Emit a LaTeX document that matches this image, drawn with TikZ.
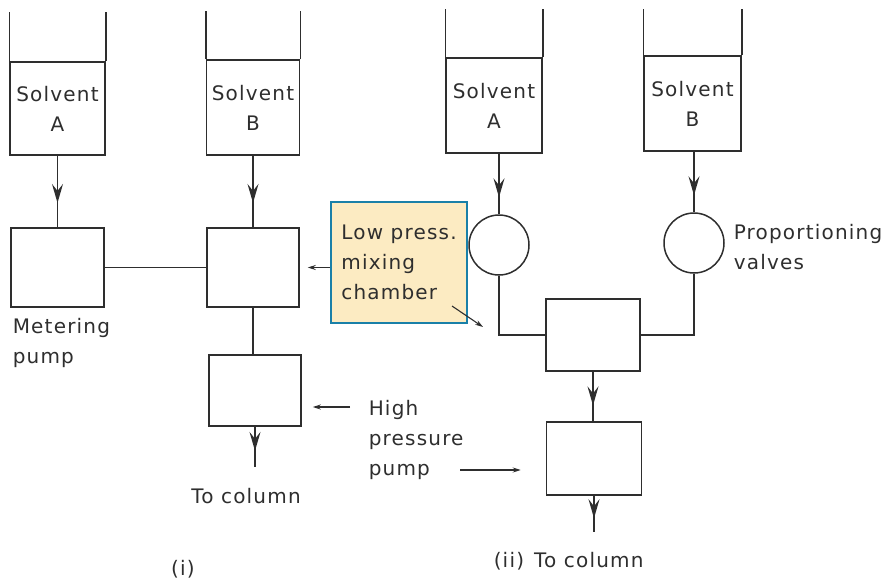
\documentclass[tikz,border=0pt]{standalone}
\usepackage{fontspec}
\setmainfont{DejaVu Sans}[LetterSpace=6]
\usetikzlibrary{arrows.meta,decorations.markings}
\definecolor{ink}{HTML}{2E2E2E}
\definecolor{hlfill}{HTML}{FCEBC2}
\definecolor{hlborder}{HTML}{1A80A8}
\begin{document}
\begin{tikzpicture}[x=1pt,y=-1pt, line width=1.5pt, color=ink,
  font=\fontsize{20}{30}\selectfont,
  box/.style={draw=ink, rectangle, inner sep=0pt},
  valve/.style={draw=ink, circle, minimum size=60pt, inner sep=0pt},
  flow/.style={draw=ink, postaction={decorate},
    decoration={markings, mark=at position #1 with {\arrow{Stealth[length=19pt,width=11pt,inset=7pt]}}}},
  flow/.default=0.6,
  note/.style={draw=ink, line width=1.1pt, -{Stealth[length=8pt,width=5pt]}},
  lbl/.style={align=left, inner sep=0pt}]
\useasboundingbox (0,0) rectangle (889,579);

% ---------- (i) ----------
\node[box, minimum width=95pt, minimum height=93pt, align=center] (tAi) at (57.5,108.5) {Solvent\\A};
\draw (tAi.north west) -- ++(0,-49) (tAi.north east) -- ++(0,-49);
\node[box, minimum width=93pt, minimum height=95pt, align=center] (tBi) at (253,107.5) {Solvent\\B};
\draw (tBi.north west) -- ++(0,-48) (tBi.north east) -- ++(0,-48);

\node[box, minimum width=93pt, minimum height=79pt] (mp) at (57.5,267.5) {};
\node[box, minimum width=92pt, minimum height=79pt] (mxi) at (253,267.5) {};
\node[box, minimum width=92pt, minimum height=71pt] (hpi) at (255,390.5) {};
\coordinate (outi) at (255,467);

\draw[flow=0.66] (tAi.south) -- (mp.north);
\draw[flow=0.66] (tBi.south) -- (mxi.north);
\draw (mp.east) -- (mxi.west);
\draw (mxi.south) -- (mxi.south |- hpi.north);
\draw[flow=0.6] (hpi.south) -- (outi);

\node[lbl, anchor=north west] (mplbl) at (12,318) {Metering\\pump};
\node[anchor=base] (toi) at (246,503) {To column};
\node[anchor=base] (labi) at (183,575) {(i)};

% ---------- (ii) ----------
\node[box, minimum width=96pt, minimum height=95pt, align=center] (tAii) at (494,105.5) {Solvent\\A};
\draw (tAii.north west) -- ++(0,-48) (tAii.north east) -- ++(0,-48);
\node[box, minimum width=97pt, minimum height=95pt, align=center] (tBii) at (692.5,103.5) {Solvent\\B};
\draw (tBii.north west) -- ++(0,-46) (tBii.north east) -- ++(0,-46);

\node[valve] (vA) at (499,245) {};
\node[valve] (vB) at (694,243) {};
\node[box, minimum width=94pt, minimum height=72pt] (mxii) at (593,335) {};
\node[box, minimum width=95pt, minimum height=73pt] (hpii) at (594,458.5) {};
\coordinate (outii) at (594,532);

\draw[flow=0.72] (tAii.south -| vA.north) -- (vA.north);
\draw[flow=0.72] (tBii.south -| vB.north) -- (vB.north);
\draw (vA.south) |- (mxii.west);
\draw (vB.south) |- (mxii.east);
\draw[flow=0.68] (mxii.south) -- (mxii.south |- hpii.north);
\draw[flow=0.62] (hpii.south) -- (outii);

\node[lbl, anchor=north west] (pvlbl) at (733,224) {Proportioning\\valves};
\node[anchor=base west, inner sep=0pt] (toii) at (493,567) {(ii)\hspace{0.5em}To column};

% ---------- shared labels ----------
\node[lbl, anchor=north west] (hplbl) at (368,400) {High\\pressure\\pump};
\coordinate (hpA) at (350,407);
\coordinate (hpB) at (460,470);
\draw[note] (hpA) -- ([xshift=11pt]hpi.east |- hpA);
\draw[note] (hpB) -- ([xshift=-25pt]hpii.west |- hpB);

\node[draw=hlborder, fill=hlfill, line width=2.5pt, minimum width=136pt, minimum height=121pt,
      align=left, inner sep=0pt] (lp) at (399,262.5) {Low press.\\mixing\\chamber};
\draw[note] (lp.west |- mxi.east) -- ([xshift=8pt]mxi.east);
\coordinate (lpA) at (452,306);
\coordinate (lpB) at (483,327);
\draw[note] (lpA) -- (lpB);
\end{tikzpicture}
\end{document}
